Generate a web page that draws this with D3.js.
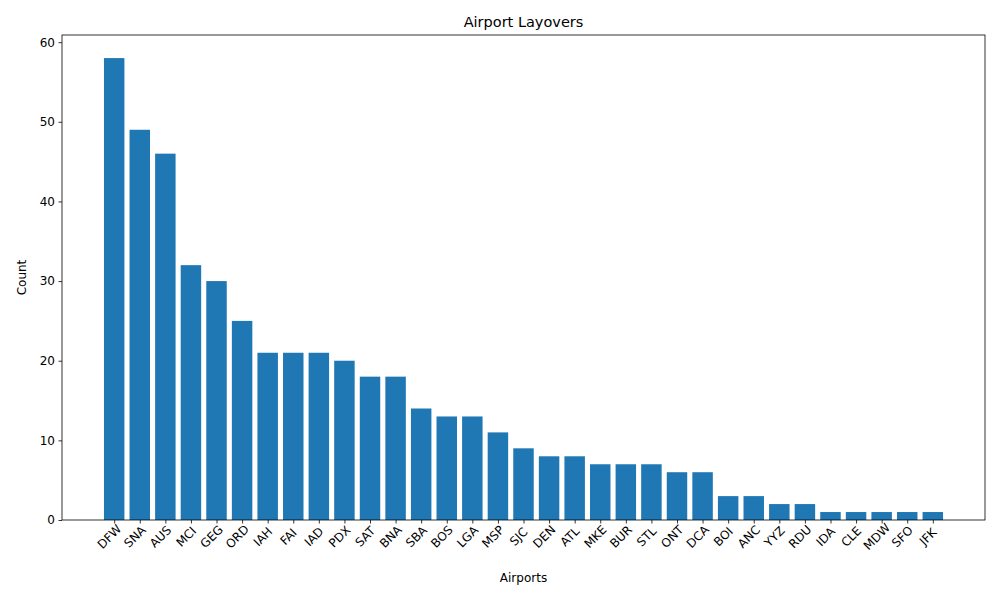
<!DOCTYPE html>
<html><head><meta charset="utf-8">
<script src="https://cdn.jsdelivr.net/npm/d3@7"></script>
<style>body{margin:0;background:#fff}text{font-family:"DejaVu Sans",sans-serif}</style>
</head><body><svg id="c" width="1000" height="600"></svg>
<script>
const airports = ["DFW","SNA","AUS","MCI","GEG","ORD","IAH","FAI","IAD","PDX","SAT","BNA","SBA","BOS","LGA","MSP","SJC","DEN","ATL","MKE","BUR","STL","ONT","DCA","BOI","ANC","YYZ","RDU","IDA","CLE","MDW","SFO","JFK"];
const counts = [58,49,46,32,30,25,21,21,21,20,18,18,14,13,13,11,9,8,8,7,7,7,6,6,3,3,2,2,1,1,1,1,1];
const yTicks = [0,10,20,30,40,50,60];

const L=62,R=985,T=35,B=520;
const svg=d3.select("#c");
const n=airports.length;
const x=d3.scaleLinear().domain([-0.4-(n-0.2)*0.05,n-0.6+(n-0.2)*0.05]).range([L,R]);
const y=d3.scaleLinear().domain([0,d3.max(counts)*1.05]).range([B,T]);

svg.selectAll("rect.bar").data(counts).join("rect").attr("class","bar")
  .attr("x",(d,i)=>x(i-0.4)).attr("width",x(0.8)-x(0))
  .attr("y",d=>y(d)).attr("height",d=>B-y(d)).attr("fill","#1f77b4");

const ya=svg.append("g").attr("transform",`translate(${L},0)`)
  .call(d3.axisLeft(y).tickValues(yTicks).tickSize(3.5).tickPadding(3.5));
const xa=svg.append("g").attr("transform",`translate(0,${B})`)
  .call(d3.axisBottom(x).tickValues(d3.range(n)).tickSize(3.5).tickFormat(i=>airports[i]));
xa.selectAll("text").attr("text-anchor","middle").attr("dy",0)
  .attr("transform","translate(-7,15) rotate(-45)");
[ya,xa].forEach(g=>{g.select(".domain").remove();g.selectAll("text").attr("font-size",12).attr("fill","#000");g.selectAll("line").attr("stroke","#000").attr("stroke-width",0.8);});
svg.append("rect").attr("x",L).attr("y",T).attr("width",R-L).attr("height",B-T)
  .attr("fill","none").attr("stroke","#000").attr("stroke-width",0.8);

svg.append("text").attr("x",(L+R)/2).attr("y",27).attr("text-anchor","middle").attr("font-size",14.5).text("Airport Layovers");
svg.append("text").attr("x",(L+R)/2).attr("y",582).attr("text-anchor","middle").attr("font-size",12).text("Airports");
svg.append("text").attr("transform",`translate(26,${(T+B)/2}) rotate(-90)`).attr("text-anchor","middle").attr("font-size",12).text("Count");
</script></body></html>
